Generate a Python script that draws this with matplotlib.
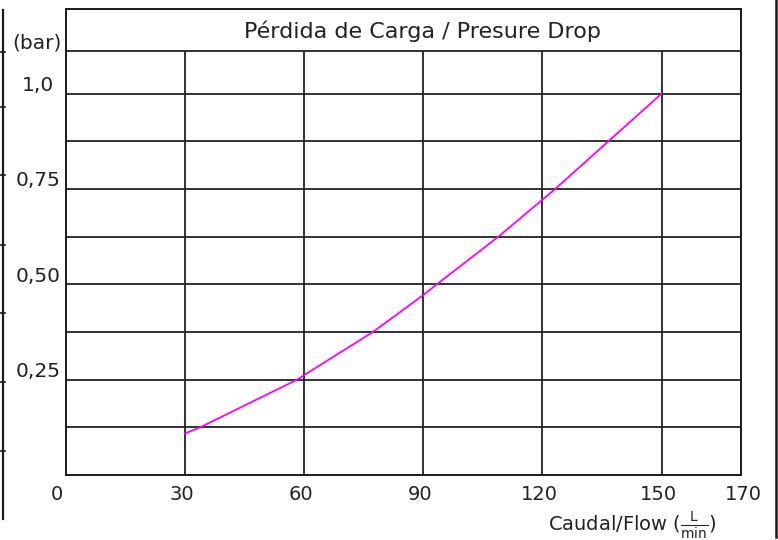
import matplotlib
matplotlib.use("Agg")
import matplotlib.pyplot as plt
from matplotlib.lines import Line2D

# ---- data ----
flow = [30, 33.8, 58.2, 60, 77.3, 90, 93.4, 108.9, 120, 123.2, 136.6, 150]
pressure = [0.109, 0.125, 0.25, 0.262, 0.375, 0.472, 0.5, 0.625, 0.722, 0.75, 0.875, 1.0]

x_ticks = [0, 30, 60, 90, 120, 150, 170]
x_tick_labels = ["0", "30", "60", "90", "120", "150", "170"]
y_ticks = [1.0, 0.75, 0.50, 0.25]
y_tick_labels = ["1,0", "0,75", "0,50", "0,25"]
h_grid = [0.125, 0.25, 0.375, 0.5, 0.625, 0.75, 0.875, 1.0]
v_grid = [30, 60, 90, 120, 150]

title = "Pérdida de Carga / Presure Drop"
y_unit = "(bar)"
x_title = r"Caudal/Flow ($\frac{\mathrm{L}}{\mathrm{min}}$)"

W, H = 778, 540
plt.rcParams['font.family'] = ['DejaVu Sans']
fig = plt.figure(figsize=(W / 100, H / 100), dpi=100)
fig.patch.set_facecolor("white")


def fp(x, y):
    return (x / W, 1 - y / H)


ax = fig.add_axes([66 / W, (H - 475) / H, (741 - 66) / W, (475 - 9) / H])
ax.set_xlim(0, 170)
ax.set_ylim(0, 1.222)
ax.set_xticks([])
ax.set_yticks([])
for s in ax.spines.values():
    s.set_linewidth(1.4)
    s.set_color("#1a1a1a")

gc = "#222222"
title_row = 1.112
for yv in h_grid + [title_row]:
    ax.plot([0, 170], [yv, yv], color=gc, lw=1.3, solid_capstyle="butt", zorder=1)
for xv in v_grid:
    ax.plot([xv, xv], [0, title_row], color=gc, lw=1.3, solid_capstyle="butt", zorder=1)

ax.plot(flow, pressure, color="#ff00ff", lw=1.3, zorder=3)

fs = 14
tc = "#222222"
fig.text(*fp(422, 31), title, ha="center", va="center", fontsize=16, color=tc)
fig.text(*fp(37, 43), y_unit, ha="center", va="center", fontsize=14.5, color=tc)

# y tick labels, slightly above their grid lines
for v, lab in zip(y_ticks, y_tick_labels):
    ypx = 475 - v * 381.4 - 8
    fig.text(*fp(38, ypx), lab, ha="center", va="center", fontsize=14.5, color=tc)

# x tick labels
for v, lab in zip(x_ticks, x_tick_labels):
    xpx = 65.8 + v * 3.97 - 3
    if v == 0:
        xpx = 57
    if v == 170:
        xpx = 743
    fig.text(*fp(xpx, 494), lab, ha="center", va="center", fontsize=fs, color=tc)

fig.text(*fp(548, 526), x_title, ha="left", va="center", fontsize=fs, color=tc)

# outer partial frame
fig.add_artist(Line2D([3 / W, 3 / W], [1 - 10 / H, 1 - 519 / H], transform=fig.transFigure,
                      color="#1a1a1a", lw=1.6))
for ty in [51.7, 106.7, 175, 245, 313, 381.7, 451]:
    fig.add_artist(Line2D([0, 5 / W], [1 - ty / H, 1 - ty / H], transform=fig.transFigure,
                          color="#1a1a1a", lw=1.2))
fig.add_artist(Line2D([776 / W, 776 / W], [1.0, 1 - 537 / H], transform=fig.transFigure,
                      color="#1a1a1a", lw=1.8))

fig.savefig("out.png", dpi=100, facecolor="white")
